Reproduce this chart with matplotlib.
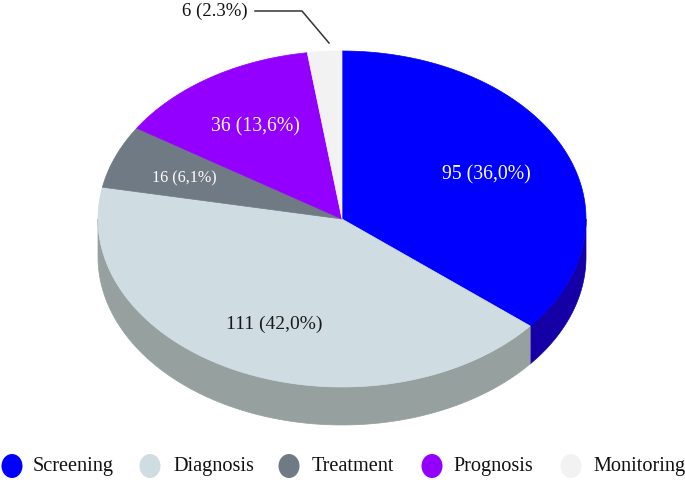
import numpy as np
import matplotlib
matplotlib.use("Agg")
import matplotlib.pyplot as plt
from matplotlib.patches import Polygon, Ellipse

categories = ["Screening", "Diagnosis", "Treatment", "Prognosis", "Monitoring"]
counts = [95, 111, 16, 36, 6]
labels = ["95 (36,0%)", "111 (42,0%)", "16 (6,1%)", "36 (13,6%)", "6 (2.3%)"]
top_colors = ["#0000FF", "#CFDDE2", "#707A84", "#9400FF", "#F2F2F2"]
side_colors = ["#1400A6", "#95A09F", "#4E555C", "#6700B2", "#B8B8B8"]

fig = plt.figure(figsize=(6.85, 4.81), dpi=100)
ax = fig.add_axes([0, 0, 1, 1])
ax.set_xlim(0, 685)
ax.set_ylim(481, 0)
ax.axis("off")

cx, cy, rx, ry, depth = 342, 220, 244, 168, 38
total = sum(counts)
bounds = np.concatenate([[0], np.cumsum(counts)]) / total * 360.0

def pt(theta_deg):
    t = np.radians(theta_deg)
    return cx + rx * np.sin(t), cy - ry * np.cos(t)

# sides
for i in range(len(counts)):
    a0, a1 = bounds[i], bounds[i + 1]
    lo, hi = max(a0, 90), min(a1, 270)
    if hi > lo:
        th = np.linspace(lo, hi, 100)
        xs, ys = pt(th)
        poly = np.column_stack([np.concatenate([xs, xs[::-1]]),
                                np.concatenate([ys, ys[::-1] + depth])])
        ax.add_patch(Polygon(poly, closed=True, facecolor=side_colors[i],
                             edgecolor=side_colors[i], lw=0.5))

# tops
for i in range(len(counts)):
    a0, a1 = bounds[i], bounds[i + 1]
    th = np.linspace(a0, a1, 200)
    xs, ys = pt(th)
    poly = np.column_stack([np.concatenate([[cx], xs]), np.concatenate([[cy], ys])])
    ax.add_patch(Polygon(poly, closed=True, facecolor=top_colors[i],
                         edgecolor=top_colors[i], lw=0.5))

serif = ["Liberation Serif", "DejaVu Serif"]
# labels inside
ax.text(486, 175, labels[0], color="white", fontsize=14.2, family=serif, ha="center", va="center")
ax.text(274, 324, labels[1], color="#1a1a1a", fontsize=14, family=serif, ha="center", va="center")
ax.text(184, 178, labels[2], color="white", fontsize=11.6, family=serif, ha="center", va="center")
ax.text(255, 127, labels[3], color="white", fontsize=14.2, family=serif, ha="center", va="center")
# outside label with leader line
ax.text(215, 11, labels[4], color="#111111", fontsize=13.5, family=serif, ha="center", va="center")
ax.plot([255, 302, 329], [12, 12, 44], color="#333333", lw=1.1)

# legend
leg_circle_x = [12, 150, 289, 432, 571]
leg_text_x = [33, 173, 312, 453, 593]
for i, c in enumerate(categories):
    ax.add_patch(Ellipse((leg_circle_x[i], 467), 21, 24, facecolor=top_colors[i],
                         edgecolor="none", zorder=5))
    ax.text(leg_text_x[i], 467, c, fontsize=14.6, family=serif, ha="left", va="center", color="#111111")

fig.savefig("out.png", dpi=100)
